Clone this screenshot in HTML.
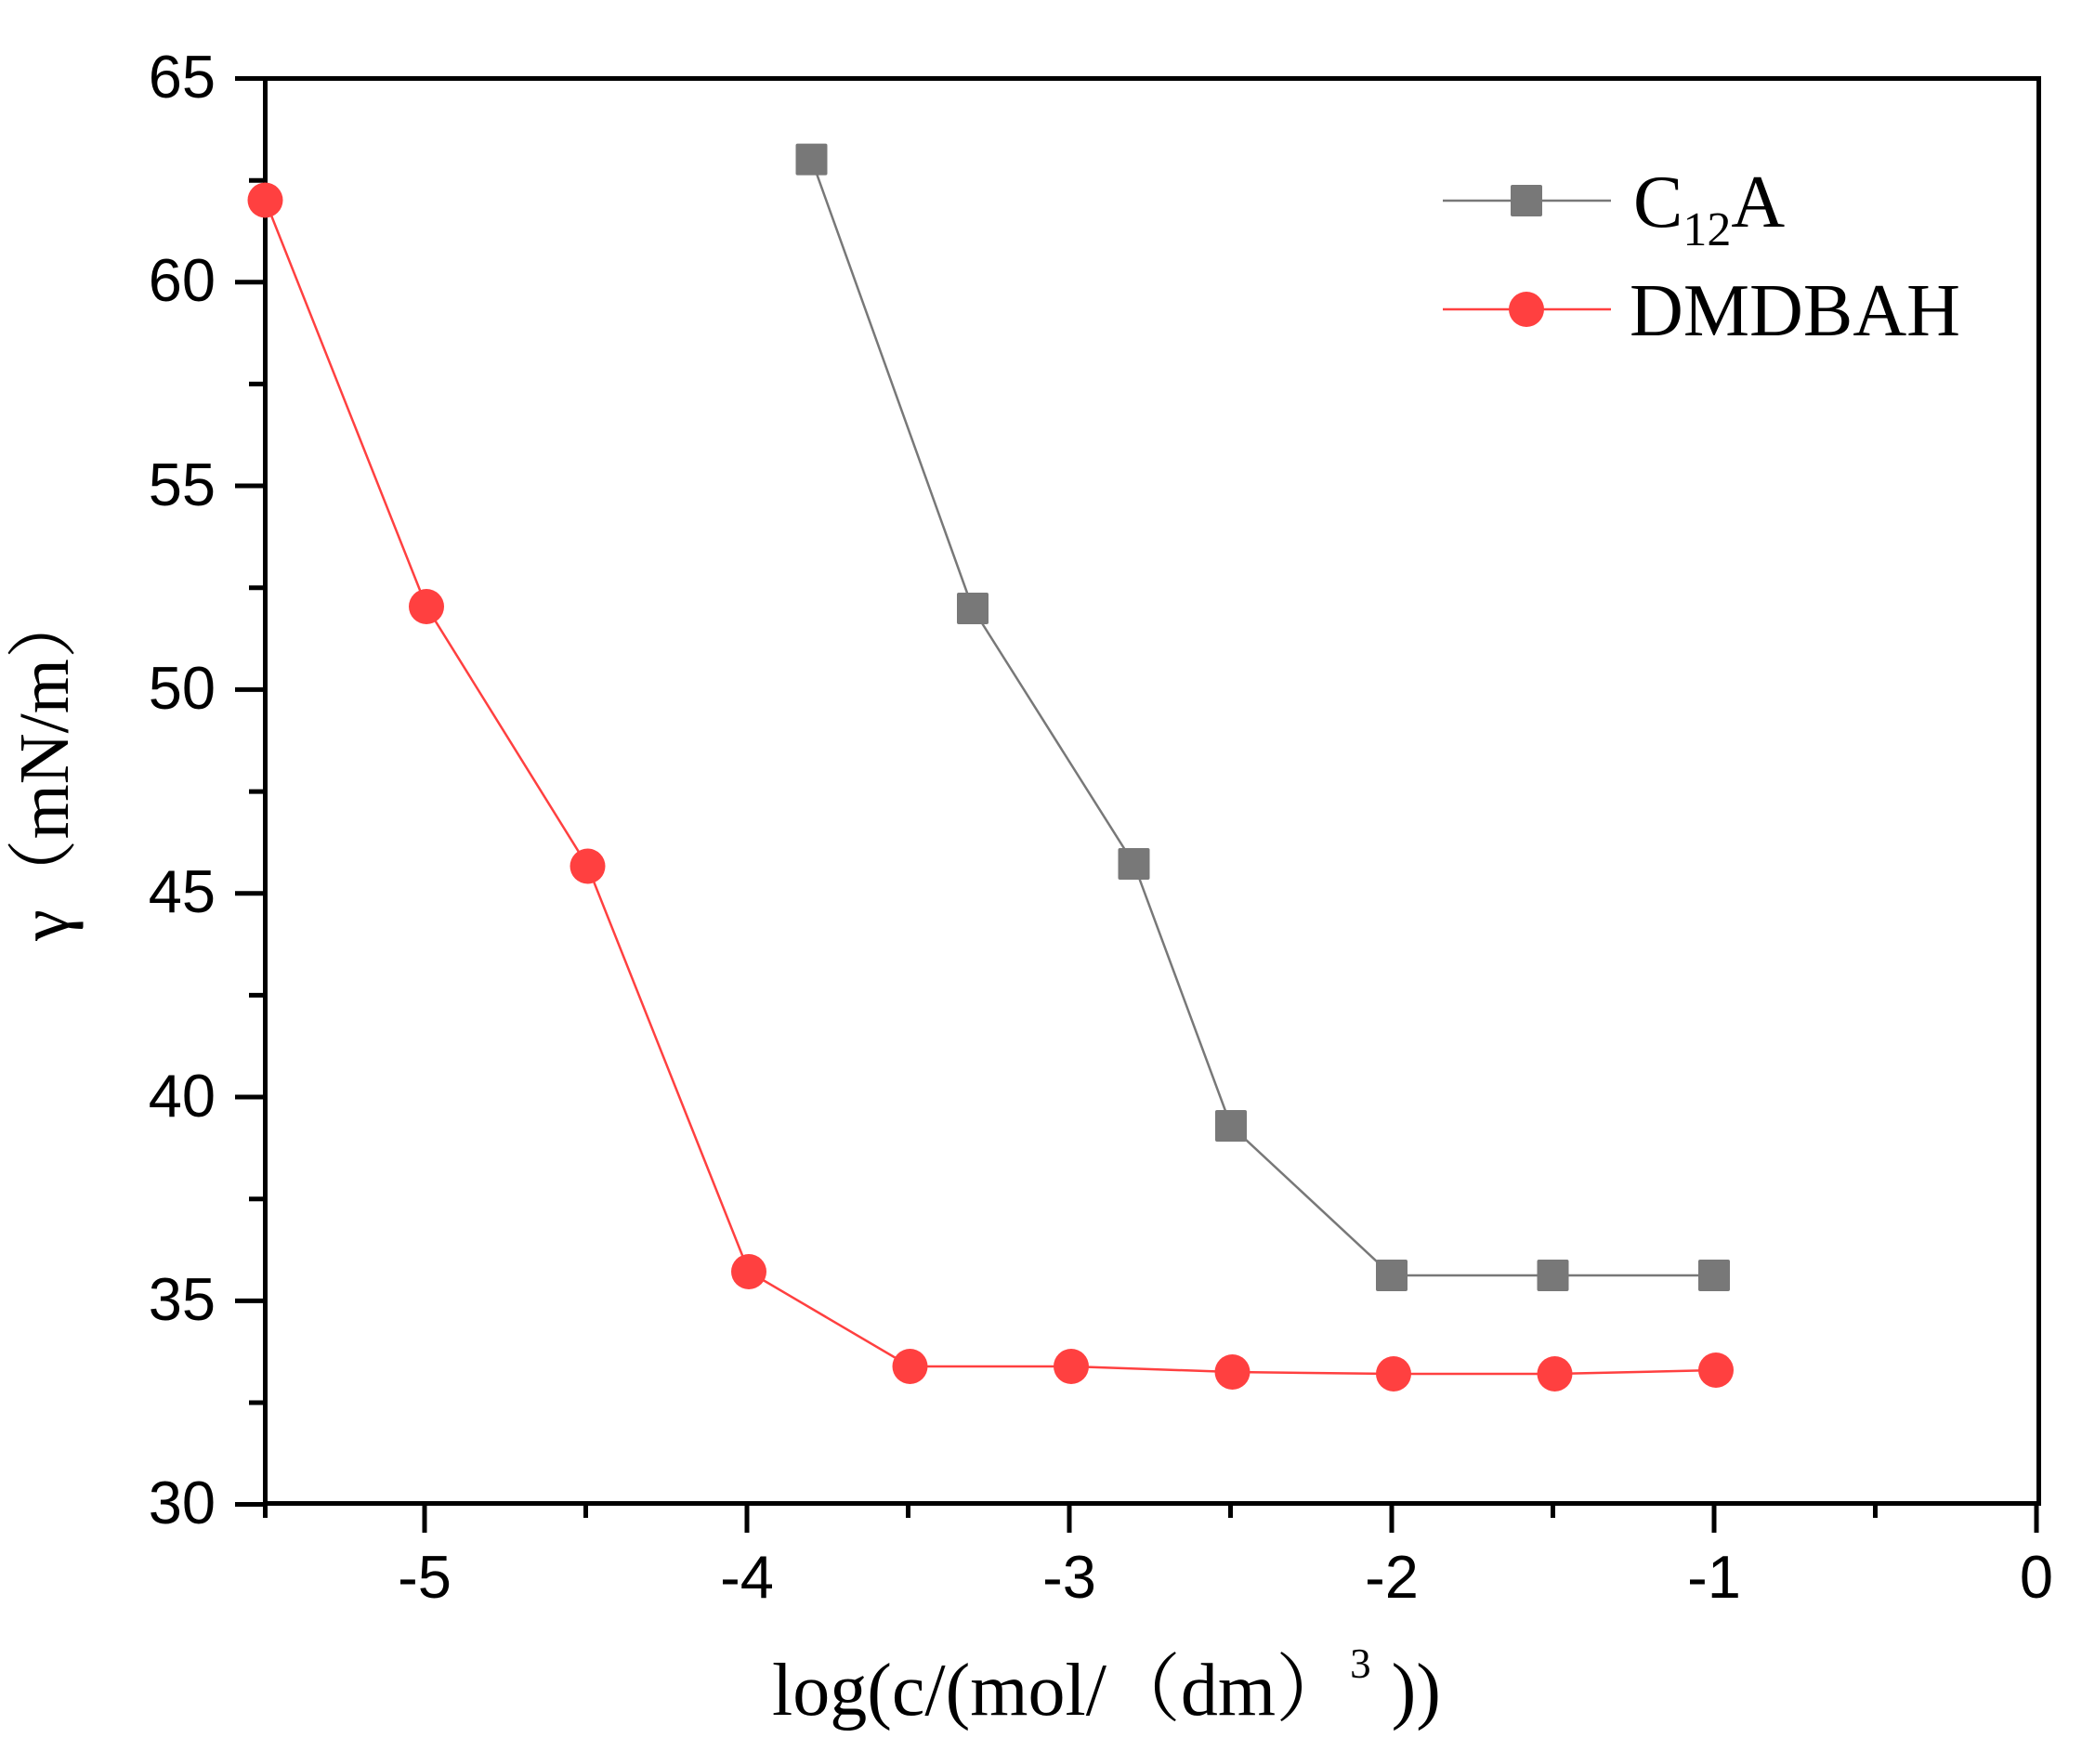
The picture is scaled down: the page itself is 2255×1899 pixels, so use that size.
<!DOCTYPE html>
<html><head><meta charset="utf-8"><style>html,body{margin:0;padding:0;background:#fff}svg{display:block}</style></head>
<body>
<svg width="2255" height="1899" viewBox="0 0 2255 1899" xmlns="http://www.w3.org/2000/svg">
<rect width="2255" height="1899" fill="#fff"/>
<g stroke="#000" stroke-width="5" fill="none">
<rect x="285.5" y="84.5" width="1909" height="1534"/>
<path d="M253 84.5H285 M253 303.8H285 M253 523H285 M253 742.4H285 M253 961.8H285 M253 1181H285 M253 1400.4H285 M253 1619.5H285"/>
<path d="M268 194.2H285 M268 413.4H285 M268 632.7H285 M268 852.1H285 M268 1071.4H285 M268 1290.7H285 M268 1510H285"/>
<path d="M457 1619V1650 M804 1619V1650 M1151 1619V1650 M1498 1619V1650 M1845 1619V1650 M2192 1619V1650"/>
<path d="M285.5 1619V1634 M630.5 1619V1634 M977.5 1619V1634 M1324.5 1619V1634 M1671.5 1619V1634 M2018.5 1619V1634"/>
</g>
<g font-family="Liberation Sans, sans-serif" font-size="65" fill="#000" text-anchor="end">
<text x="232" y="105">65</text>
<text x="232" y="324">60</text>
<text x="232" y="544">55</text>
<text x="232" y="763">50</text>
<text x="232" y="982">45</text>
<text x="232" y="1202">40</text>
<text x="232" y="1421">35</text>
<text x="232" y="1640">30</text>
</g>
<g font-family="Liberation Sans, sans-serif" font-size="65" fill="#000" text-anchor="middle">
<text x="457" y="1720">-5</text>
<text x="804" y="1720">-4</text>
<text x="1151" y="1720">-3</text>
<text x="1498" y="1720">-2</text>
<text x="1845" y="1720">-1</text>
<text x="2192" y="1720">0</text>
</g>
<text x="831" y="1846" font-family="Liberation Serif, 'Noto Serif CJK SC', serif" font-size="80" fill="#000">log(c/(mol/（dm）<tspan font-size="45" dy="-40">3</tspan><tspan dy="40" dx="22">))</tspan></text>
<text transform="translate(73,823) rotate(-90)" text-anchor="middle" font-family="Liberation Serif, 'Noto Serif CJK SC', serif" font-size="76" fill="#000">γ（mN/m）</text>
<polyline fill="none" stroke="#787878" stroke-width="2.5" points="873.5,171.6 1047,655 1220.5,930 1325,1212 1498,1373 1671.5,1373 1845,1373"/>
<g fill="#787878">
<rect x="856.5" y="154.6" width="34" height="34" rx="2"/>
<rect x="1030" y="638" width="34" height="34" rx="2"/>
<rect x="1203.5" y="913" width="34" height="34" rx="2"/>
<rect x="1308" y="1195" width="34" height="34" rx="2"/>
<rect x="1481" y="1356" width="34" height="34" rx="2"/>
<rect x="1654.5" y="1356" width="34" height="34" rx="2"/>
<rect x="1828" y="1356" width="34" height="34" rx="2"/>
</g>
<polyline fill="none" stroke="#ff4040" stroke-width="2.5" points="285.5,215.5 459,653 632.5,932.5 806,1369 979.5,1471 1153,1471 1326.5,1477 1500,1479 1673.5,1479 1847,1475"/>
<g fill="#ff4040">
<circle cx="285.5" cy="215.5" r="19"/>
<circle cx="459" cy="653" r="19"/>
<circle cx="632.5" cy="932.5" r="19"/>
<circle cx="806" cy="1369" r="19"/>
<circle cx="979.5" cy="1471" r="19"/>
<circle cx="1153" cy="1471" r="19"/>
<circle cx="1326.5" cy="1477" r="19"/>
<circle cx="1500" cy="1479" r="19"/>
<circle cx="1673.5" cy="1479" r="19"/>
<circle cx="1847" cy="1475" r="19"/>
</g>
<line x1="1553" y1="216" x2="1734" y2="216" stroke="#787878" stroke-width="2.5"/>
<rect x="1626" y="199" width="34" height="34" rx="2" fill="#787878"/>
<text x="1758" y="244" font-family="Liberation Serif, serif" font-size="80" fill="#000">C<tspan font-size="52" dy="20">12</tspan><tspan dy="-20">A</tspan></text>
<line x1="1553" y1="333" x2="1734" y2="333" stroke="#ff4040" stroke-width="2.5"/>
<circle cx="1643" cy="333" r="19" fill="#ff4040"/>
<text x="1754" y="361" font-family="Liberation Serif, serif" font-size="80" fill="#000" textLength="356" lengthAdjust="spacingAndGlyphs">DMDBAH</text>
</svg>
</body></html>
